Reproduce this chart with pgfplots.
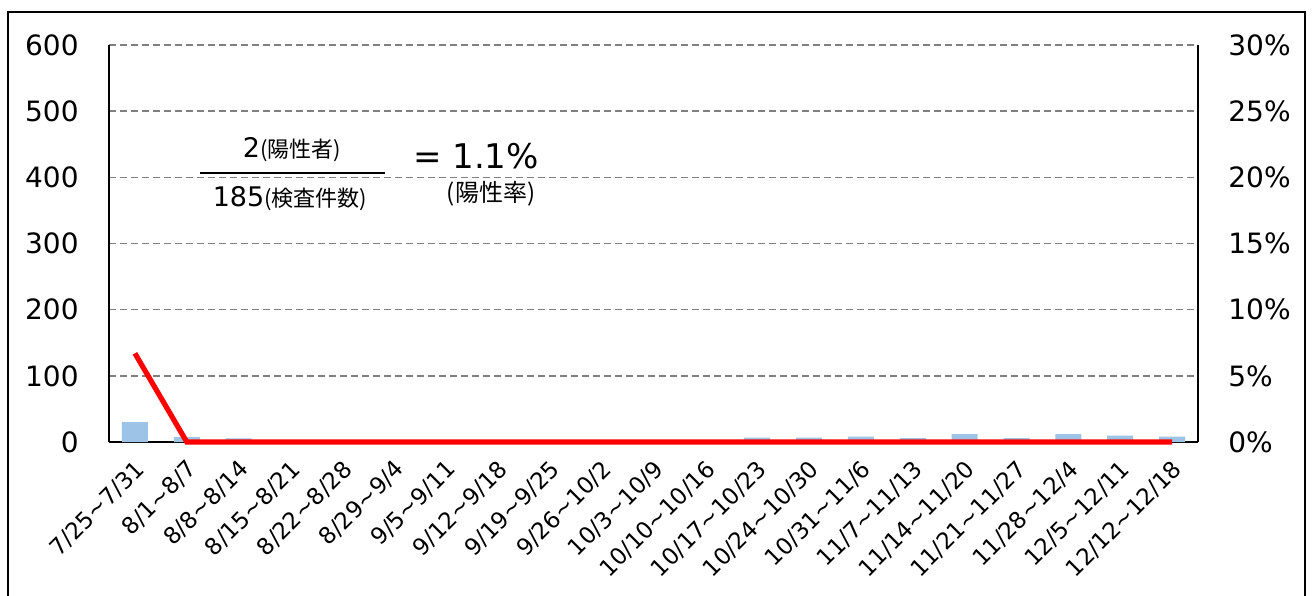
\documentclass[border=0pt]{standalone}
\usepackage{pgfplots}
\pgfplotsset{compat=1.18}
\usepackage{fontspec}
\setmainfont{DejaVu Sans}
\newfontfamily\jp{Noto Sans CJK JP}
\definecolor{barblue}{HTML}{9DC3E6}
\definecolor{gridgray}{HTML}{808080}

% 1 px of the reference = 0.5pt here
\begin{document}
\begin{tikzpicture}
\useasboundingbox (0,0) rectangle (656pt,297.5pt);
\draw[line width=0.75pt] (4pt,-10pt) -- (4pt,291.5pt) -- (652.5pt,291.5pt) -- (652.5pt,-10pt);

\begin{axis}[
    at={(54.5pt,76.5pt)}, anchor=south west,
    scale only axis, width=544.5pt, height=198.5pt,
    xmin=-0.5, xmax=20.5, ymin=0, ymax=600,
    axis x line*=bottom, axis y line*=left,
    axis line style={black, line width=1pt},
    ytick={0,100,...,600},
    ymajorgrids, grid style={gridgray, dash pattern=on 3.5pt off 2pt, line width=0.7pt},
    major tick length=0pt,
    xtick={0,...,20},
    xticklabels={7/25\textasciitilde7/31, 8/1\textasciitilde8/7, 8/8\textasciitilde8/14,
        8/15\textasciitilde8/21, 8/22\textasciitilde8/28, 8/29\textasciitilde9/4,
        9/5\textasciitilde9/11, 9/12\textasciitilde9/18, 9/19\textasciitilde9/25,
        9/26\textasciitilde10/2, 10/3\textasciitilde10/9, 10/10\textasciitilde10/16,
        10/17\textasciitilde10/23, 10/24\textasciitilde10/30, 10/31\textasciitilde11/6,
        11/7\textasciitilde11/13, 11/14\textasciitilde11/20, 11/21\textasciitilde11/27,
        11/28\textasciitilde12/4, 12/5\textasciitilde12/11, 12/12\textasciitilde12/18},
    xticklabel style={font=\fontsize{11.5}{13}\selectfont, inner sep=0pt,
        xshift=-0.5pt, yshift=-8pt, rotate=45, anchor=north east},
    yticklabel style={font=\fontsize{14}{16}\selectfont, inner sep=0pt, xshift=-15pt},
    /pgf/number format/assume math mode=true,
    clip=false,
]
\addplot[ybar, bar width=13pt, fill=barblue, draw=none] coordinates {
    (0,30) (1,7.5) (2,5.5) (3,3) (4,3) (5,3) (6,3) (7,3) (8,3) (9,3) (10,3)
    (11,3) (12,6.5) (13,6.5) (14,8) (15,6) (16,12) (17,6) (18,12) (19,9.5) (20,8)
};
\end{axis}

\begin{axis}[
    at={(54.5pt,76.5pt)}, anchor=south west,
    scale only axis, width=544.5pt, height=198.5pt,
    xmin=-0.5, xmax=20.5, ymin=0, ymax=30,
    axis x line=none, axis y line*=right,
    axis line style={black, line width=1pt},
    ytick={0,5,...,30},
    yticklabels={0\%,5\%,10\%,15\%,20\%,25\%,30\%},
    major tick length=0pt,
    yticklabel style={font=\fontsize{14}{16}\selectfont, inner sep=0pt, xshift=15pt},
    clip=false,
]
\addplot[red, line width=2.6pt] coordinates {
    (0,6.7) (1,0) (2,0) (3,0) (4,0) (5,0) (6,0) (7,0) (8,0) (9,0) (10,0)
    (11,0) (12,0) (13,0) (14,0) (15,0) (16,0) (17,0) (18,0) (19,0) (20,0)
};
\end{axis}

\node[anchor=base, inner sep=0pt] at (146pt,218.5pt)
    {\fontsize{13.5}{15}\selectfont 2{\jp\fontsize{11}{12}\selectfont (陽性者)}};
\draw[line width=1.25pt] (100pt,211pt) -- (192.5pt,211pt);
\node[anchor=base, inner sep=0pt] at (145pt,194pt)
    {\fontsize{13.5}{15}\selectfont 185{\jp\fontsize{11}{12}\selectfont (検査件数)}};
\node[anchor=base, inner sep=0pt] at (238pt,213pt)
    {\fontsize{17}{19}\selectfont = 1.1\%};
\node[anchor=base, inner sep=0pt] at (245.5pt,196.5pt)
    {\jp\fontsize{12}{13}\selectfont (陽性率)};
\end{tikzpicture}
\end{document}
